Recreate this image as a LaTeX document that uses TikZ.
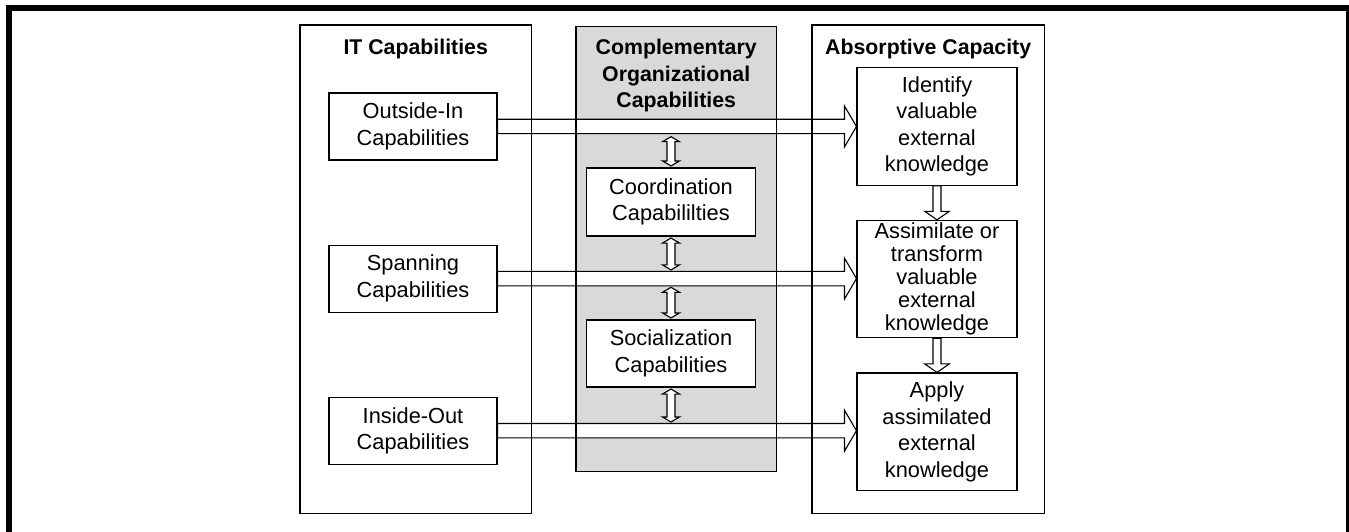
\documentclass[tikz,border=0pt]{standalone}
\usepackage{fontspec}
\setmainfont{Liberation Sans}
\usepackage{tikz}
\usetikzlibrary{calc}
\usetikzlibrary{positioning}
\definecolor{panelgray}{RGB}{217,217,217}
\newcommand{\capfont}{\fontsize{21.8}{26.5}\selectfont}
\newcommand{\titlefont}{\fontsize{21.3}{26.5}\selectfont\bfseries}
\newcommand{\hblock}[2]{\draw[blockline] let \p1=(#1), \p2=(#2) in
  (\x1,\y1+7.2pt) -- (\x2-12pt,\y1+7.2pt) -- (\x2-12pt,\y1+20.5pt) -- (\x2,\y1)
  -- (\x2-12pt,\y1-20.5pt) -- (\x2-12pt,\y1-7.2pt) -- (\x1,\y1-7.2pt) -- cycle;}
\newcommand{\vblock}[2]{\draw[blockline] let \p1=(#1), \p2=(#2) in
  (\x1-4pt,\y1) -- (\x1-4pt,\y2+8.5pt) -- (\x1-12.3pt,\y2+8.5pt) -- (\x1,\y2)
  -- (\x1+12.3pt,\y2+8.5pt) -- (\x1+4pt,\y2+8.5pt) -- (\x1+4pt,\y1) -- cycle;}
\newcommand{\vdouble}[2]{\draw[blockline] let \p1=(#1), \p2=(#2) in
  (\x1,\y1) -- (\x1+8.5pt,\y1-5pt) -- (\x1+4pt,\y1-5pt) -- (\x1+4pt,\y2+5pt)
  -- (\x1+8.5pt,\y2+5pt) -- (\x1,\y2) -- (\x1-8.5pt,\y2+5pt) -- (\x1-4pt,\y2+5pt)
  -- (\x1-4pt,\y1-5pt) -- (\x1-8.5pt,\y1-5pt) -- cycle;}

\begin{document}
\begin{tikzpicture}[x=1pt,y=-1pt,
    panel/.style={inner sep=0pt, anchor=north west},
    title/.style={inner sep=0pt, align=center, font=\titlefont},
    capbox/.style={draw, fill=white, line width=1.1pt, inner sep=0pt, align=center,
      font=\capfont, minimum width=168pt, minimum height=67pt},
    stepbox/.style={capbox, minimum width=160pt, minimum height=117.5pt},
    blockline/.style={draw, fill=white, line width=1.1pt, line join=miter}]
  \useasboundingbox (0,0) rectangle (1349,532);
  \draw[line width=6pt] (9,545) -- (9,8) -- (1349,8) -- (1349,545);

  \node[panel, minimum width=231pt, minimum height=488pt] (IT) at (300,25) {};
  \node[panel, fill=panelgray, minimum width=200pt, minimum height=444.5pt] (COC) at (576,26.5) {};
  \node[panel, minimum width=232pt, minimum height=488pt] (AC) at (812,25) {};

  \node[title, below=14.3pt of IT.north] (ITt) {IT Capabilities};
  \node[title, below=12.8pt of COC.north] (COCt) {Complementary\\Organizational\\Capabilities};
  \node[title, below=14.3pt of AC.north] (ACt) {Absorptive Capacity};

  \node[capbox] (OI) at (413,126.5) {Outside-In\\Capabilities};
  \node[capbox, below=84pt of OI] (SP) {Spanning\\Capabilities};
  \node[capbox, below=84pt of SP] (IO) {Inside-Out\\Capabilities};

  \node[capbox, minimum width=169pt, minimum height=68pt] (CD) at (671,202) {Coordination\\Capabililties};
  \node[capbox, minimum width=169pt] (SC) at (671,353.5) {Socialization\\Capabilities};

  \node[stepbox] (ID) at (937,126.5) {Identify\\valuable\\external\\knowledge};
  \node[stepbox, below=34pt of ID, font=\fontsize{21.8}{23}\selectfont] (AS)
    {Assimilate or\\transform\\valuable\\external\\knowledge};
  \node[stepbox, below=34pt of AS] (AP) {Apply\\assimilated\\external\\knowledge};

  \hblock{OI.east}{ID.west}
  \hblock{SP.east}{AS.west}
  \hblock{IO.east}{AP.west}

  \draw[line width=1.1pt] (IT.north west) rectangle (IT.south east);
  \draw[line width=1.1pt] (COC.north west) rectangle (COC.south east);
  \draw[line width=1.1pt] (AC.north west) rectangle (AC.south east);

  \coordinate (OIs) at ($(OI.east)+(0,7.2)$);
  \coordinate (SPn) at ($(SP.east)+(0,-7.2)$);
  \coordinate (SPs) at ($(SP.east)+(0,7.2)$);
  \coordinate (IOn) at ($(IO.east)+(0,-7.2)$);

  \vdouble{$(CD.north |- OIs)+(0,3)$}{$(CD.north)+(0,-1.5)$}
  \vdouble{$(CD.south)+(0,1.5)$}{$(CD.south |- SPn)+(0,-1.5)$}
  \vdouble{$(SC.north |- SPs)+(0,1.5)$}{$(SC.north)+(0,-1.5)$}
  \vdouble{$(SC.south)+(0,1.5)$}{$(SC.south |- IOn)+(0,-1.5)$}

  \vblock{ID.south}{AS.north}
  \vblock{AS.south}{AP.north}
\end{tikzpicture}
\end{document}
